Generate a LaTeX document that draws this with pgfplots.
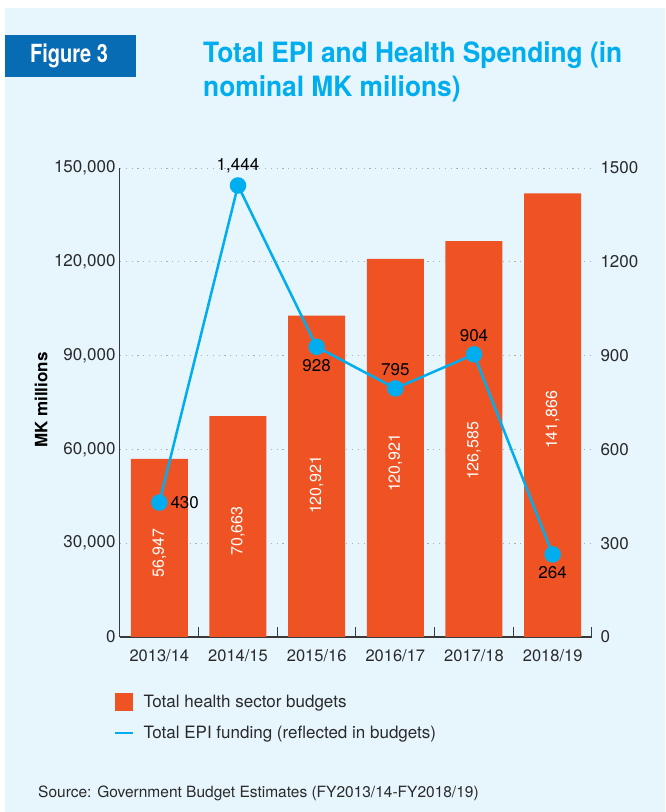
\documentclass[border=0pt]{standalone}
\usepackage{pgfplots}
\pgfplotsset{compat=1.18}
\usepackage{pgfplotstable}
\usepackage{graphicx}
\usepackage{fontspec}
\setmainfont{TeX Gyre Heros}

\definecolor{bgblue}{HTML}{E7F5FD}
\definecolor{barorange}{HTML}{F05323}
\definecolor{linecyan}{HTML}{00AEEF}
\definecolor{figblue}{HTML}{086CB4}
\definecolor{txtgray}{HTML}{2A2A2A}
\definecolor{gridgray}{HTML}{A9B0B5}
\definecolor{axisgray}{HTML}{3A3A3A}

\pgfplotstableread{
x y lab ly
0 56947 56,947 26866
1 70663 70,663 33902
2 102800 120,921 48614
3 120921 120,921 55650
4 126585 126,585 59488
5 141866 141,866 69403
}\bars

\pgfplotstableread{
x y lab
0 430 430
1 1444 1,444
2 928 928
3 795 795
4 904 904
5 264 264
}\epi
\pgfplotstableread{
x y lab
0 430 430
}\epiW
\pgfplotstableread{
x y lab
1 1444 1,444
3 795 795
4 904 904
}\epiS
\pgfplotstableread{
x y lab
2 928 928
5 264 264
}\epiN

\begin{document}
\begin{tikzpicture}[x=1pt,y=1pt]
\fill[white] (0,0) rectangle (665,812);
\fill[bgblue] (5,0) rectangle (665,804);
\fill[figblue] (5,735) rectangle (136,777);
\node[white, anchor=base, inner sep=0pt, font=\bfseries\fontsize{25}{30}\selectfont] at (69,749) {\scalebox{0.8}[1]{Figure 3}};
\node[linecyan, anchor=base west, inner sep=0pt, font=\bfseries\fontsize{28}{34}\selectfont] at (203,749) {\scalebox{0.94}[1]{Total EPI and Health Spending (in}};
\node[linecyan, anchor=base west, inner sep=0pt, font=\bfseries\fontsize{28}{34}\selectfont] at (203,715) {\scalebox{0.94}[1]{nominal MK milions)}};

\begin{axis}[
  at={(120pt,175pt)}, anchor=south west,
  scale only axis, width=472pt, height=469pt,
  xmin=-0.5, xmax=5.5, ymin=0, ymax=150000,
  axis x line*=bottom, axis y line*=left,
  x axis line style={line width=1.6pt, color=axisgray},
  y axis line style={line width=1pt, color=axisgray},
  xtick={0,...,5},
  xticklabels={2013/14,2014/15,2015/16,2016/17,2017/18,2018/19},
  minor xtick={0.5,1.5,2.5,3.5,4.5,5.5},
  minor tick length=10pt, major tick length=0pt,
  tick align=inside,
  minor tick style={line width=1pt, color=axisgray},
  ytick={0,30000,60000,90000,120000,150000},
  yticklabels={0,{30,000},{60,000},{90,000},{120,000},{150,000}},
  scaled y ticks=false,
  ymajorgrids,
  major grid style={gridgray, line width=0.9pt, dash pattern=on 1.2pt off 4.6pt},
  yticklabel style={font=\fontsize{17}{20}\selectfont, color=txtgray, xshift=-1pt},
  xticklabel style={font=\fontsize{16.5}{19}\selectfont, color=txtgray, yshift=-9pt},
  ylabel={MK millions},
  ylabel style={at={(axis description cs:-0.167,0.505)}, anchor=center, font=\bfseries\fontsize{17}{20}\selectfont, color=black},
  clip=false,
]
\addplot[ybar, bar width=57pt, fill=barorange, draw=none] table[x=x,y=y]{\bars};
\addplot[draw=none, mark=none, nodes near coords={\pgfplotspointmeta}, point meta=explicit symbolic,
  nodes near coords style={rotate=90, anchor=center, white, font=\fontsize{16}{19}\selectfont}]
  table[x=x,y=ly,meta=lab]{\bars};
\end{axis}

\begin{axis}[
  at={(120pt,175pt)}, anchor=south west,
  scale only axis, width=472pt, height=469pt,
  xmin=-0.5, xmax=5.5, ymin=0, ymax=1500,
  axis x line=none, axis y line*=right,
  y axis line style={draw=none},
  xtick=\empty,
  ytick={0,300,600,900,1200,1500},
  yticklabels={0,300,600,900,1200,1500},
  major tick length=0pt,
  yticklabel style={font=\fontsize{17}{20}\selectfont, color=txtgray, xshift=5pt},
  clip=false,
  legend style={at={(axis description cs:-0.013,-0.119)}, anchor=north west, draw=none, fill=none,
    font=\fontsize{17}{20}\selectfont, text=txtgray, row sep=13pt, inner sep=0pt},
  legend cell align=left,
  /tikz/every odd column/.append style={column sep=7pt},
  lbl/.style={forget plot, draw=none, mark=none, nodes near coords={\pgfplotspointmeta}, point meta=explicit symbolic},
]
\addlegendimage{legend image code/.code={\fill[barorange] (0pt,-8.5pt) rectangle (17pt,8.5pt);}}
\addlegendentry{Total health sector budgets}
\addlegendimage{legend image code/.code={\draw[linecyan, line width=2.5pt] (0pt,0pt) -- (18pt,0pt);}}
\addlegendentry{Total EPI funding (reflected in budgets)}
\addplot[forget plot, linecyan, line width=2.5pt, mark=*, mark size=7pt,
  mark options={fill=linecyan, draw=none}]
  table[x=x,y=y]{\epi};
\addplot[lbl, nodes near coords style={anchor=west, inner sep=11pt, black, font=\fontsize{17}{20}\selectfont}]
  table[x=x,y=y,meta=lab]{\epiW};
\addplot[lbl, nodes near coords style={anchor=south, inner sep=12pt, black, font=\fontsize{17}{20}\selectfont}]
  table[x=x,y=y,meta=lab]{\epiS};
\addplot[lbl, nodes near coords style={anchor=north, inner sep=12pt, black, font=\fontsize{17}{20}\selectfont}]
  table[x=x,y=y,meta=lab]{\epiN};
\end{axis}

\node[anchor=base west, inner sep=0pt, color=txtgray, font=\fontsize{15.5}{18}\selectfont] at (38,14) {Source: Government Budget Estimates (FY2013/14-FY2018/19)};
\pgfresetboundingbox
\useasboundingbox (0,0) rectangle (665,812);
\end{tikzpicture}
\end{document}
